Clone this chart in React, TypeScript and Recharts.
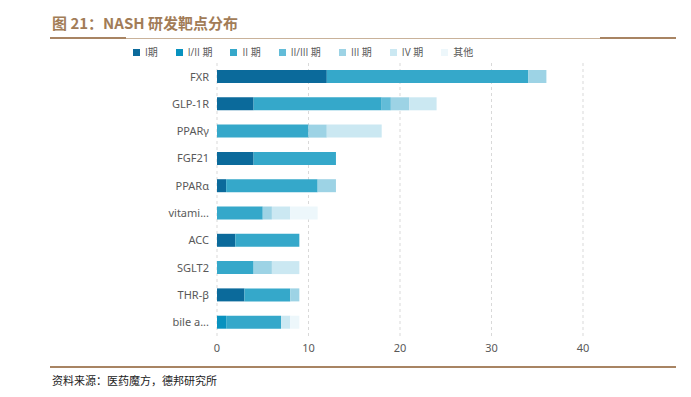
import React from "react";
import { BarChart, Bar, XAxis, YAxis, CartesianGrid } from "recharts";

const categories = ["FXR", "GLP-1R", "PPARγ", "FGF21", "PPARα", "vitami...", "ACC", "SGLT2", "THR-β", "bile a..."];
const phase1 = [12, 4, 0, 4, 1, 0, 2, 0, 3, 0];
const phase12 = [0, 0, 0, 0, 0, 0, 0, 0, 0, 1];
const phase2 = [22, 14, 10, 9, 10, 5, 7, 4, 5, 6];
const phase23 = [0, 1, 0, 0, 0, 0, 0, 0, 0, 0];
const phase3 = [2, 2, 2, 0, 2, 1, 0, 2, 1, 0];
const phase4 = [0, 3, 6, 0, 0, 2, 0, 3, 0, 1];
const others = [0, 0, 0, 0, 0, 3, 0, 0, 0, 1];
const xTicks = [0, 10, 20, 30, 40];

const series = [
  { key: "p1", name: "I期", values: phase1, color: "#0b6a9b" },
  { key: "p12", name: "I/II 期", values: phase12, color: "#0892bf" },
  { key: "p2", name: "II 期", values: phase2, color: "#35a8ca" },
  { key: "p23", name: "II/III 期", values: phase23, color: "#62bcd8" },
  { key: "p3", name: "III 期", values: phase3, color: "#9dd3e5" },
  { key: "p4", name: "IV 期", values: phase4, color: "#cbe8f2" },
  { key: "other", name: "其他", values: others, color: "#edf7fb" },
];

const data = categories.map((name, i) => {
  const row: any = { name };
  series.forEach((s) => (row[s.key] = s.values[i]));
  return row;
});

const font = "'Noto Sans', 'Noto Sans CJK SC', sans-serif";

export default function App() {
  return (
    <div style={{ position: "absolute", left: 0, top: 0, width: 691, height: 397, background: "#fff", fontFamily: font }}>
      <div style={{ position: "absolute", left: 52, top: 12, fontSize: 15, fontWeight: 700, color: "#a27c57", fontFamily: "'Noto Sans CJK SC', sans-serif" }}>
        图 21：NASH 研发靶点分布
      </div>
      <div style={{ position: "absolute", left: 50, top: 38, width: 626, height: 1, background: "#c9b29a" }} />
      <div style={{ position: "absolute", left: 50, top: 37, width: 76, height: 2, background: "#a88463" }} />
      <div style={{ position: "absolute", left: 600, top: 37, width: 76, height: 2, background: "#a88463" }} />

      <div style={{ position: "absolute", left: 133, top: 44, display: "flex", gap: 18, fontSize: 10, color: "#595959", lineHeight: "16px", fontFamily: "'Open Sans', 'Noto Sans CJK SC', sans-serif" }}>
        {series.map((s) => (
          <div key={s.key} style={{ display: "flex", alignItems: "center", gap: 5 }}>
            <span style={{ width: 7, height: 7, background: s.color, display: "inline-block" }} />
            <span>{s.name}</span>
          </div>
        ))}
      </div>

      <div style={{ position: "absolute", left: 0, top: 0 }}>
        <BarChart width={691} height={397} data={data} layout="vertical" margin={{ top: 63, right: 108, left: 0, bottom: 31 }}>
          <CartesianGrid horizontal={false} strokeDasharray="3 3" stroke="#d9d9d9" />
          <XAxis type="number" domain={[0, 40]} ticks={xTicks} axisLine={false} tickLine={false} height={30}
            tick={{ fontSize: 11, fill: "#595959", fontFamily: font }} />
          <YAxis type="category" dataKey="name" width={217} axisLine={false} tickLine={false}
            tick={{ fontSize: 11, fill: "#595959", fontFamily: font }} />
          {series.map((s) => (
            <Bar key={s.key} dataKey={s.key} name={s.name} stackId="a" fill={s.color} barSize={13} isAnimationActive={false} />
          ))}
        </BarChart>
      </div>

      <div style={{ position: "absolute", left: 50, top: 366, width: 626, height: 2, background: "#a88463" }} />
      <div style={{ position: "absolute", left: 52, top: 372, fontSize: 11, color: "#222", fontFamily: "'Noto Sans CJK SC', sans-serif" }}>
        资料来源：医药魔方，德邦研究所
      </div>
    </div>
  );
}
